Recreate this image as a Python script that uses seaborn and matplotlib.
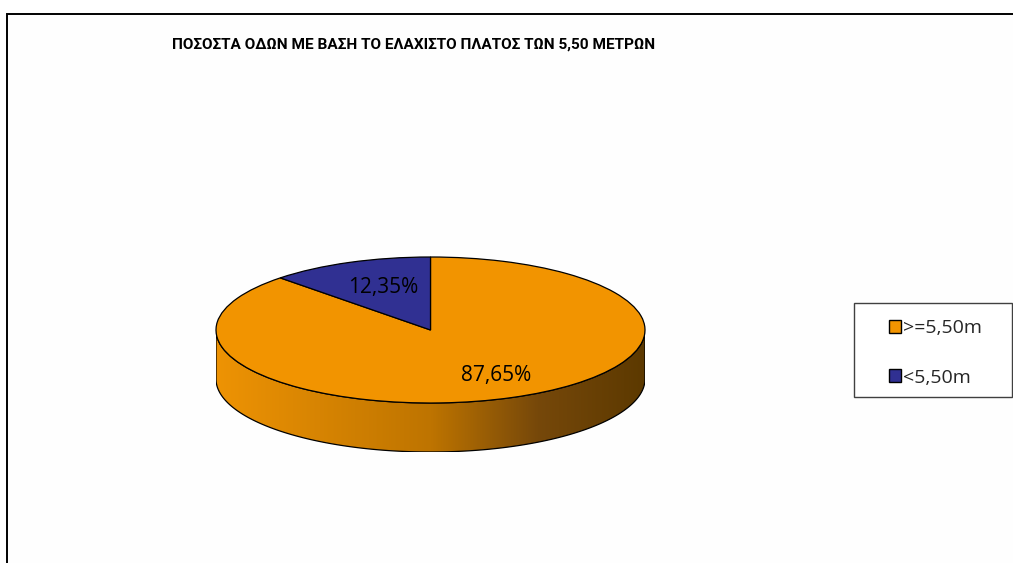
import numpy as np
import matplotlib
matplotlib.use("Agg")
import matplotlib.pyplot as plt
import seaborn as sns
from matplotlib.patches import Polygon, Rectangle
from matplotlib.colors import LinearSegmentedColormap

sns.set_theme(style="white")
plt.rcParams['font.family'] = ['Open Sans', 'DejaVu Sans']

# ---- data ----
title = "ΠΟΣΟΣΤΑ ΟΔΩΝ ΜΕ ΒΑΣΗ ΤΟ ΕΛΑΧΙΣΤΟ ΠΛΑΤΟΣ ΤΩΝ 5,50 ΜΕΤΡΩΝ"
categories = [">=5,50m", "<5,50m"]
values = [87.65, 12.35]
colors = ["#F29400", "#303092"]

W, H = 1013, 563
fig = plt.figure(figsize=(W / 100, H / 100), dpi=100)
fig.patch.set_facecolor("white")

# background frame (chart area border)
bg = fig.add_axes([0, 0, 1, 1])
bg.set_xlim(0, W)
bg.set_ylim(H, 0)
bg.axis("off")
bg.add_patch(Rectangle((7, 14), W + 20, H + 20, facecolor="#FEFEFE",
                       edgecolor="black", linewidth=1.4))
bg.text(414, 45, title, ha="center", va="center", fontsize=11.1,
        fontweight="bold", color="black", family=["Roboto", "DejaVu Sans"])
# legend box
bg.add_patch(Rectangle((853.5, 302.5), 158.5, 94, facecolor="white",
                       edgecolor="#404040", linewidth=1.0))

# ---- 3D-like pie ----
cx, cy, a, b, depth = 430.5, 330, 214.5, 73, 49
dr = depth / b
left, right = cx - a, cx + a
top, bottom = cy - b, cy + b + depth
pax = fig.add_axes([left / W, (H - bottom) / H, (right - left) / W, (bottom - top) / H])

# side band (front half of cylinder)
th = np.linspace(np.pi, 2 * np.pi, 200)
upper = np.column_stack([np.cos(th), np.sin(th)])
lower = np.column_stack([np.cos(th[::-1]), np.sin(th[::-1]) - dr])
band = Polygon(np.vstack([upper, lower]), closed=True, facecolor="none",
               edgecolor="black", linewidth=0.9, zorder=2)
pax.add_patch(band)
cmap = LinearSegmentedColormap.from_list(
    "side", [(0.0, "#EE9304"), (0.5, "#BE7400"), (0.75, "#76480A"), (1.0, "#5C3900")])
grad = np.linspace(0, 1, 256).reshape(1, -1)
im = pax.imshow(grad, cmap=cmap, extent=(-1, 1, -1 - dr, 0), aspect="auto", zorder=1)
im.set_clip_path(band)

# top face
wedges, texts, autotexts = pax.pie(
    values, colors=colors, startangle=90, counterclock=False,
    autopct=lambda p: f"{p:.2f}%".replace(".", ","), pctdistance=0.66,
    wedgeprops=dict(edgecolor="black", linewidth=0.9),
    textprops=dict(fontsize=15, color="black"))
for w in wedges:
    w.set_zorder(3)
for t in autotexts:
    t.set_zorder(4)
autotexts[0].set_position((0.305, -0.62))
autotexts[1].set_position((-0.22, 0.58))

pax.set_aspect("auto")
pax.set_xlim(-1.0, 1.0)
pax.set_ylim(-1 - dr, 1.0)
pax.axis("off")

# legend
leg = fig.legend(wedges, categories, loc="center left",
                 bbox_to_anchor=(888.5 / W, 1 - 353 / H), frameon=False,
                 fontsize=14, handlelength=0.62, handleheight=0.62,
                 handletextpad=0.15, labelspacing=1.6, borderpad=0,
                 borderaxespad=0)
for h in leg.legend_handles:
    h.set_edgecolor("black")
    h.set_linewidth(1.0)

fig.savefig("out.png", dpi=100)
